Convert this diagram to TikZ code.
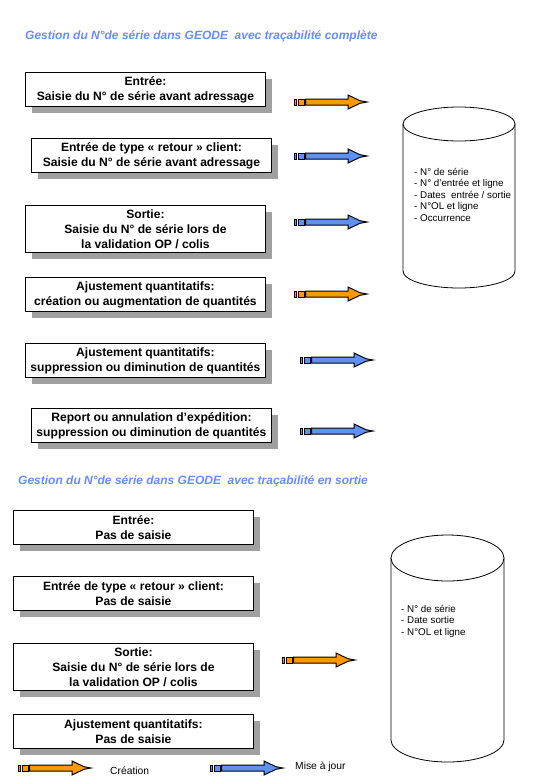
\documentclass[tikz,border=0pt]{standalone}
\usepackage{fontspec}
\setmainfont{Liberation Sans}
\usetikzlibrary{shadows}
\definecolor{orangeA}{RGB}{255,153,0}
\definecolor{blueA}{RGB}{95,145,245}
\definecolor{titleblue}{RGB}{100,140,255}
\definecolor{shadowgray}{RGB}{160,160,160}
\newcommand{\dataarrow}[4]{%
  \begin{scope}[shift={(#2,-#3)}]
    \coordinate (#1) at (0,0);
    \draw[arrline,fill=#4] (0,-3) rectangle (2.5,3);
    \draw[arrline,fill=#4] (4,-3) rectangle (10,3);
    \draw[arrline,fill=#4] (11.5,-3) -- (54,-3) -- (54,-7) -- (66,-1.3) -- (73,0)
      -- (66,1.3) -- (54,7) -- (54,3) -- (11.5,3) -- cycle;
  \end{scope}}
\begin{document}
\begin{tikzpicture}[x=1pt,y=1pt,
  arrline/.style={draw=black,line width=1pt,line join=miter},
  box/.style={draw,line width=0.9pt,fill=white,
    general shadow={fill=shadowgray,shadow xshift=7pt,shadow yshift=-7pt},
    minimum width=240pt,minimum height=34pt,anchor=north west,align=center,
    inner sep=0pt,font=\bfseries\fontsize{12.1}{15}\selectfont},
  tallbox/.style={box,minimum height=47pt},
  title/.style={anchor=west,text=titleblue,inner sep=0pt,
    font=\bfseries\itshape\fontsize{12}{13}\selectfont},
  dbtext/.style={anchor=north west,align=left,inner sep=0pt,
    font=\fontsize{9.8}{11.4}\selectfont},
  legend/.style={anchor=west,inner sep=0pt,font=\fontsize{10.3}{12}\selectfont},
  cyl/.style={draw,line width=0.8pt}]
\useasboundingbox (0,0) rectangle (540,-780);

% titles
\node[title] (t1) at (25,-36) {Gestion du N°de série dans GEODE~ avec traçabilité complète};
\node[title] (t2) at (18,-481) {Gestion du N°de série dans GEODE~ avec traçabilité en sortie};

% upper boxes
\node[box] (b1) at (25,-72) {Entrée:\\Saisie du N° de série avant adressage};
\node[box] (b2) at (31,-138) {Entrée de type « retour » client:\\Saisie du N° de série avant adressage};
\node[tallbox] (b3) at (25,-205) {Sortie:\\Saisie du N° de série lors de\\la validation OP / colis};
\node[box] (b4) at (25,-277) {Ajustement quantitatifs:\\création ou augmentation de quantités};
\node[box] (b5) at (25,-343) {Ajustement quantitatifs:\\suppression ou diminution de quantités};
\node[box] (b6) at (31,-408) {Report ou annulation d’expédition:\\suppression ou diminution de quantités};

% lower boxes
\node[box] (l1) at (13,-510) {Entrée:\\Pas de saisie};
\node[box] (l2) at (13,-576) {Entrée de type « retour » client:\\Pas de saisie};
\node[tallbox] (l3) at (13,-643) {Sortie:\\Saisie du N° de série lors de\\la validation OP / colis};
\node[box] (l4) at (13,-714) {Ajustement quantitatifs:\\Pas de saisie};

% arrows
\dataarrow{a1}{294}{102}{orangeA}
\dataarrow{a2}{294}{156}{blueA}
\dataarrow{a3}{294}{222}{blueA}
\dataarrow{a4}{294}{294}{orangeA}
\dataarrow{a5}{300}{360}{blueA}
\dataarrow{a6}{300}{431}{blueA}
\dataarrow{a7}{282}{660}{orangeA}
\dataarrow{g1}{18}{768}{orangeA}
\dataarrow{g2}{210}{768}{blueA}

% legend
\node[legend] (lc) at (110,-771) {Création};
\node[legend] (lm) at (295,-767) {Mise à jour};

% upper cylinder
\draw[cyl] (403,-124) -- (403,-271) arc[start angle=180,end angle=360,x radius=56,y radius=17] -- (515,-124);
\draw[cyl,fill=white] (459,-124) ellipse[x radius=56,y radius=17];
\node[dbtext] (d1) at (414,-168) {- N° de série\\- N° d'entrée et ligne\\- Dates~ entrée / sortie\\- N°OL et ligne\\- Occurrence};

% lower cylinder
\draw[cyl] (391,-558) -- (391,-740) arc[start angle=180,end angle=360,x radius=56.5,y radius=22] -- (504,-558);
\draw[cyl,fill=white] (447.5,-558) ellipse[x radius=56.5,y radius=23];
\node[dbtext] (d2) at (401,-605) {- N° de série\\- Date sortie\\- N°OL et ligne};
\end{tikzpicture}
\end{document}
